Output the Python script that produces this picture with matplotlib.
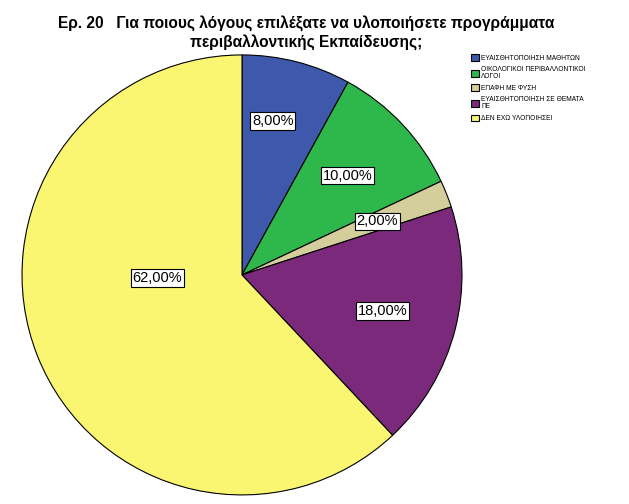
import matplotlib
matplotlib.use("Agg")
import matplotlib.pyplot as plt

# chart data
categories = [
    "ΕΥΑΙΣΘΗΤΟΠΟΙΗΣΗ ΜΑΘΗΤΩΝ",
    "ΟΙΚΟΛΟΓΙΚΟΙ ΠΕΡΙΒΑΛΛΟΝΤΙΚΟΙ\nΛΟΓΟΙ",
    "ΕΠΑΦΗ ΜΕ ΦΥΣΗ",
    "ΕΥΑΙΣΘΗΤΟΠΟΙΗΣΗ ΣΕ ΘΕΜΑΤΑ\nΠΕ",
    "ΔΕΝ ΕΧΩ ΥΛΟΠΟΙΗΣΕΙ",
]
values = [8, 10, 2, 18, 62]
colors = ["#3E58AB", "#2EB84B", "#D3CE9B", "#7A297B", "#FAF672"]
title = "Ερ. 20   Για ποιους λόγους επιλέξατε να υλοποιήσετε προγράμματα\nπεριβαλλοντικής Εκπαίδευσης;"

plt.rcParams['font.family'] = ['Liberation Sans', 'DejaVu Sans']

fig = plt.figure(figsize=(6.29, 5.04), dpi=100)
ax = fig.add_axes([0.035, 0.018, 0.6995, 0.873])

wedges, texts, autotexts = ax.pie(
    values, colors=colors, startangle=90, counterclock=False,
    autopct=lambda p: f"{p:.2f}%".replace(".", ","), pctdistance=0.66,
    wedgeprops=dict(edgecolor="black", linewidth=0.8),
    textprops=dict(fontsize=10.5),
)
for t in autotexts:
    t.set_bbox(dict(boxstyle="square,pad=0.12", facecolor="white",
                    edgecolor="black", linewidth=0.8))
# SPSS places a couple of labels off the usual radius
autotexts[0].set_position((0.14, 0.70))
autotexts[-1].set_position((-0.386, -0.014))

ax.set_xlim(-1.0, 1.0)
ax.set_ylim(-1.0, 1.0)
ax.set_aspect("equal")

fig.text(0.487, 0.968, title, ha="center", va="top", fontsize=11.2,
         fontweight="bold", linespacing=1.15)

leg = fig.legend(wedges, categories, loc="upper left",
                 bbox_to_anchor=(0.745, 0.898), frameon=False,
                 fontsize=4.8, handlelength=1.15, handleheight=1.15,
                 handletextpad=0.35, labelspacing=0.65, borderaxespad=0)
for t in leg.get_texts():
    t.set_linespacing(1.0)

fig.savefig("out.png", dpi=100)
